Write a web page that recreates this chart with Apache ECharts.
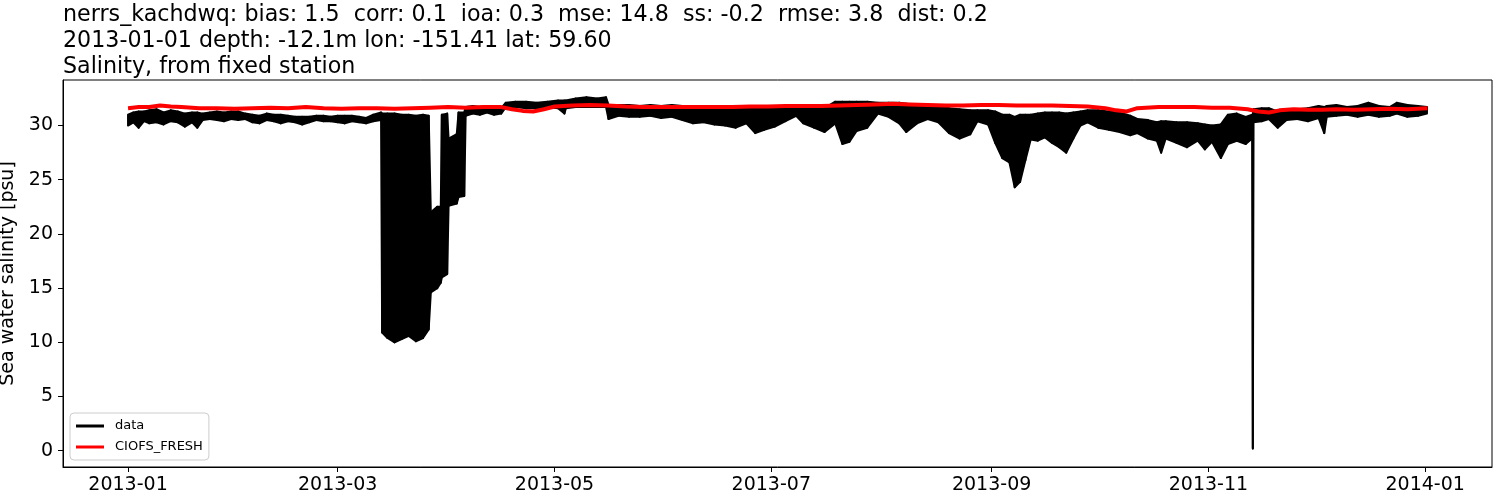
<!DOCTYPE html>
<html><head><meta charset="utf-8">
<script src="https://cdn.jsdelivr.net/npm/echarts@6/dist/echarts.min.js"></script>
<style>html,body{margin:0;padding:0;background:#fff}#c{width:1500px;height:500px}</style>
</head><body><div id="c"></div>
<script>
const titleLines = [
  'nerrs_kachdwq: bias: 1.5  corr: 0.1  ioa: 0.3  mse: 14.8  ss: -0.2  rmse: 3.8  dist: 0.2',
  '2013-01-01 depth: -12.1m lon: -151.41 lat: 59.60',
  'Salinity, from fixed station'
];
const yAxisName = 'Sea water salinity [psu]';
const seriesNames = ['data', 'CIOFS_FRESH'];
const tickLabels = ['2013-01', '2013-03', '2013-05', '2013-07', '2013-09', '2013-11', '2014-01'];
const yTicks = [0, 5, 10, 15, 20, 25, 30];

// observed salinity envelope (days since 2013-01-01, tidal low / high)
const obsDay = [0,1.5,3,4.5,6,8,10,12,14,16,18,19.5,21,23,25,27,29,31,33,35,37,39,41,43,45,47,49,51,53,55,57,59,61,63,65,67,69,71.2,
  71.5,73,75,77,79,81,83,84.6,85.2,87,88,88.3,89.8,90.2,92.5,93,94.6,
  95,97,99,101,103,105,106.3,109,112,115,118,121,122.8,123.2,126,129,132,134.5,135.2,138,141,144,147,150,153,156,159,162,165,168,171,174,176.5,179,182,185,188,
  190,193,196,199,201,203,205,208,211,214,217,219,222,225,228,231,234,237,239,242,244,246,248,249.5,251,252.5,254,256,258,260,262,264,266,268,270,273,276,279,282,
  284,287,289.5,290.7,292,295,298,301,303,305,307.5,309.5,312,314.5,316.3,316.5,316.7,319,321,323.5,326,329,332,335,336.6,337.3,340,343,346,349,352,355,357,360,363,365.5];
const obsLow = [30.0,30.3,29.8,30.4,30.2,30.3,30.1,30.4,30.3,29.9,30.3,29.8,30.5,30.6,30.5,30.4,30.6,30.5,30.6,30.3,30.2,30.5,30.4,30.2,30.4,30.3,30.1,30.3,30.5,30.4,30.4,30.3,30.2,30.4,30.3,30.2,30.4,30.5,
  10.9,10.4,10.0,10.3,10.6,10.1,10.4,11.2,14.6,15.0,15.5,16.0,16.3,22.6,22.8,23.4,23.5,
  30.9,31.1,31.0,31.2,31.0,31.1,31.7,31.7,31.6,31.6,31.7,31.6,31.1,31.6,31.7,31.7,31.7,31.7,30.6,30.9,30.8,30.8,30.9,30.7,30.8,30.5,30.2,30.3,30.1,30.0,29.8,30.2,29.3,29.6,29.9,30.4,30.9,
  30.2,29.8,29.4,30.2,28.3,28.5,29.5,29.8,31.1,30.8,30.2,29.4,30.2,30.6,30.3,29.3,28.8,29.2,30.4,30.1,28.4,27.0,26.6,24.3,24.8,26.8,28.7,28.6,28.9,28.4,28.0,27.5,28.8,30.0,30.3,29.8,29.6,29.4,29.1,
  29.3,28.8,28.6,27.5,28.8,28.4,28.0,28.6,27.8,28.5,27.0,28.3,28.6,28.3,28.8,0.2,30.3,30.4,30.6,29.8,30.5,30.6,30.4,30.7,29.3,30.8,30.9,31.0,30.8,31.0,30.8,30.9,31.1,30.8,30.9,31.1];
const obsHigh = [31.0,31.2,31.3,31.3,31.4,31.5,31.2,31.4,31.3,31.1,31.2,31.2,31.1,31.2,31.3,31.2,31.3,31.3,31.1,31.0,30.9,31.1,31.0,31.0,30.9,30.8,30.8,30.8,30.9,30.9,30.8,30.9,30.9,30.9,30.8,30.7,31.0,31.2,
  31.1,31.1,31.1,31.0,31.0,30.9,31.0,30.9,22.0,22.5,22.5,31.0,31.1,28.8,29.2,31.2,31.2,
  31.7,31.8,31.7,31.8,31.7,31.6,32.1,32.2,32.2,32.1,32.2,32.3,32.3,32.3,32.5,32.6,32.5,32.6,31.9,31.9,31.9,31.8,31.9,31.8,31.9,31.8,31.8,31.7,31.7,31.7,31.7,31.8,31.7,31.7,31.7,31.8,31.8,
  31.6,31.6,31.6,32.2,32.2,32.2,32.2,32.2,32.1,32.1,32.1,32.0,31.9,31.8,31.8,31.6,31.5,31.4,31.4,31.4,31.3,31.0,31.0,30.8,31.0,31.0,31.0,31.1,31.2,31.2,31.2,31.1,31.2,31.3,31.4,31.4,31.3,31.2,30.9,
  30.6,30.5,30.3,30.4,30.4,30.3,30.3,30.2,30.1,30.0,30.1,31.0,31.1,30.8,31.0,31.0,31.5,31.6,31.6,31.3,31.4,31.5,31.6,31.8,31.7,31.8,31.9,31.7,31.8,32.1,31.8,31.7,32.1,31.9,31.8,31.7];

// model salinity (CIOFS_FRESH)
const modelDay = [0,3,6,9,12,15,20,25,30,35,40,45,50,55,60,65,70,75,80,85,90,95,100,105,108,111,114,117,120,125,130,135,140,145,150,155,160,165,170,175,180,185,190,195,200,205,210,215,220,225,230,235,240,245,250,255,260,265,270,275,278,281,284,290,295,300,305,310,315,318,321,324,328,332,336,340,345,350,355,360,365.5];
const modelVal = [31.6,31.7,31.7,31.85,31.75,31.7,31.6,31.6,31.55,31.6,31.65,31.6,31.7,31.6,31.55,31.6,31.6,31.55,31.6,31.65,31.7,31.65,31.7,31.7,31.5,31.35,31.3,31.5,31.75,31.85,31.9,31.85,31.75,31.7,31.7,31.7,31.7,31.7,31.7,31.75,31.75,31.8,31.8,31.8,31.85,31.9,31.95,32.0,31.95,31.9,31.85,31.85,31.9,31.9,31.85,31.85,31.85,31.8,31.75,31.6,31.4,31.3,31.6,31.7,31.7,31.7,31.65,31.65,31.5,31.3,31.2,31.4,31.5,31.45,31.45,31.5,31.45,31.5,31.55,31.5,31.6];

const DAY = 86400000;
const T0 = Date.UTC(2013, 0, 1);
const tickDays = tickLabels.map(s => (Date.UTC(+s.slice(0, 4), +s.slice(5, 7) - 1, 1) - T0) / DAY);
const fmt = v => { const i = tickDays.findIndex(d => Math.abs(d - v) < 0.01); return i >= 0 ? tickLabels[i] : ''; };
const FONT = 'DejaVu Sans';
const Y_MIN = -1.5, Y_MAX = 34.2;

// band segment between sample i and i+1, placed through the axes' scales
function renderBand(params, api) {
  const i = params.dataIndex;
  const n = i + 1;
  if (n >= obsDay.length) return null;
  const a = api.coord([api.value(0), api.value(1)]);
  const b = api.coord([api.value(0), api.value(2)]);
  const c = api.coord([obsDay[n], obsHigh[n]]);
  const d = api.coord([obsDay[n], obsLow[n]]);
  return {type: 'polygon', shape: {points: [a, b, c, d]},
          style: {fill: '#000', stroke: '#000', lineWidth: 2, lineJoin: 'round'}};
}

const chart = echarts.init(document.getElementById('c'), null, {renderer: 'canvas'});
chart.setOption({
  animation: false,
  backgroundColor: '#fff',
  title: {
    text: titleLines.join('\n'), left: 63, top: 2, padding: 0,
    textStyle: {fontFamily: FONT, fontSize: 22.2, fontWeight: 'normal', color: '#000', lineHeight: 26}
  },
  grid: {left: 63, top: 80, width: 1429, height: 387, show: true, borderColor: '#000', borderWidth: 1,
         backgroundColor: 'transparent', containLabel: false, outerBoundsMode: 'none'},
  legend: {
    left: 70, top: 413, orient: 'vertical', data: seriesNames, icon: 'rect',
    itemWidth: 28, itemHeight: 3, itemGap: 8, padding: [6.5, 6, 6.5, 6], z: 10,
    backgroundColor: 'rgba(255,255,255,0.85)', borderColor: '#cccccc', borderWidth: 1, borderRadius: 4,
    textStyle: {fontFamily: FONT, fontSize: 13, color: '#000', lineHeight: 13, padding: [0, 0, 0, 6]}
  },
  xAxis: {
    type: 'value', min: -18.3, max: 383.8, z: 5,
    axisLine: {show: true, onZero: false, lineStyle: {color: '#000', width: 1}},
    axisTick: {show: true, customValues: tickDays, length: 5, lineStyle: {color: '#000', width: 1}},
    axisLabel: {customValues: tickDays, formatter: fmt, fontSize: 19, color: '#000', fontFamily: FONT, margin: 9},
    splitLine: {show: false}
  },
  yAxis: {
    type: 'value', min: Y_MIN, max: Y_MAX, z: 5,
    name: yAxisName, nameLocation: 'middle', nameGap: 40,
    nameTextStyle: {fontSize: 19, fontFamily: FONT, color: '#000'},
    axisLine: {show: true, onZero: false, lineStyle: {color: '#000', width: 1}},
    axisTick: {show: true, customValues: yTicks, length: 5, lineStyle: {color: '#000', width: 1}},
    axisLabel: {customValues: yTicks, fontSize: 19, color: '#000', fontFamily: FONT, margin: 10},
    splitLine: {show: false}
  },
  series: [
    {name: seriesNames[0], type: 'custom', z: 2, clip: true,
     itemStyle: {color: '#000'},
     encode: {x: 0, y: [1, 2]},
     data: obsDay.map((d, i) => [d, obsLow[i], obsHigh[i]]),
     renderItem: renderBand},
    {name: seriesNames[1], type: 'line', symbol: 'none', color: '#ff0000', z: 3,
     data: modelDay.map((d, i) => [d, modelVal[i]]),
     lineStyle: {color: '#ff0000', width: 4}}
  ]
});
</script>
</body></html>
